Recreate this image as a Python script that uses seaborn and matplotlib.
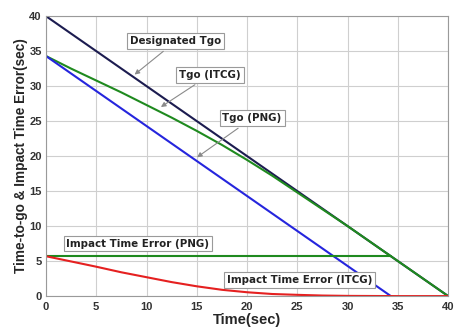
import matplotlib
matplotlib.use("Agg")
import matplotlib.pyplot as plt
import seaborn as sns
import pandas as pd

# ---- data ----
t_desig = [0, 40]
tgo_desig = [40, 0]

t_png = [0, 34.3]
tgo_png = [34.3, 0]

t_itcg = [0, 2.5, 5, 7.5, 10, 12.5, 15, 17.5, 20, 22.5, 25, 27.5, 30, 35, 40]
tgo_itcg = [34.3, 32.5, 30.8, 29.1, 27.3, 25.5, 23.6, 21.6, 19.45, 17.2, 14.8, 12.4, 10.0, 5.0, 0]

t_err_png = [0, 34.3]
err_png = [5.7, 5.7]

t_err_itcg = [0, 2.5, 5, 7.5, 10, 12.5, 15, 17.5, 20, 22.5, 25, 27.5, 30, 35, 40]
err_itcg = [5.7, 4.95, 4.2, 3.4, 2.7, 2.0, 1.4, 0.9, 0.55, 0.3, 0.18, 0.08, 0.03, 0.0, 0.0]

x_ticks = [0, 5, 10, 15, 20, 25, 30, 35, 40]
y_ticks = [0, 5, 10, 15, 20, 25, 30, 35, 40]

sns.set_style("whitegrid")
plt.rcParams['font.family'] = ['Liberation Sans', 'DejaVu Sans']

fig = plt.figure(figsize=(4.55, 3.29), dpi=100)
ax = fig.add_axes([0.101, 0.100, 0.884, 0.851])

series = [
    (t_desig, tgo_desig, "#1c1c50"),
    (t_itcg, tgo_itcg, "#1f8a1f"),
    (t_png, tgo_png, "#2525dd"),
    (t_err_png, err_png, "#1f8a1f"),
    (t_err_itcg, err_itcg, "#e52020"),
]
for xs, ys, c in series:
    df = pd.DataFrame({"t": xs, "v": ys})
    sns.lineplot(data=df, x="t", y="v", ax=ax, color=c, lw=1.5, estimator=None, sort=False)

ax.set_xlim(0, 40)
ax.set_ylim(0, 40)
ax.set_xticks(x_ticks)
ax.set_yticks(y_ticks)
ax.grid(True, color="#cfcfcf", lw=0.8)
for s in ax.spines.values():
    s.set_color("#9a9a9a")
    s.set_linewidth(0.8)
ax.tick_params(axis="x", labelsize=8, pad=4, length=0)
ax.tick_params(axis="y", labelsize=8, pad=3, length=0)
for lab in ax.get_xticklabels() + ax.get_yticklabels():
    lab.set_fontweight("bold")
    lab.set_color("#333333")

ax.set_xlabel("Time(sec)", fontsize=10.5, fontweight="bold", labelpad=1)
ax.set_ylabel("Time-to-go & Impact Time Error(sec)", fontsize=9.8, fontweight="bold", labelpad=1)

box = dict(boxstyle="square,pad=0.28", fc="white", ec="#9a9a9a", lw=0.8)
arr = dict(arrowstyle="-|>", color="#8a8a8a", lw=0.8, mutation_scale=7)
kw = dict(fontsize=7.4, fontweight="bold", color="#222222", bbox=box, ha="center", va="center",
          family=["DejaVu Sans"])

ax.annotate("Designated Tgo", xy=(8.6, 31.4), xytext=(12.9, 36.4), arrowprops=arr, **kw)
ax.annotate("Tgo (ITCG)", xy=(11.2, 26.8), xytext=(16.3, 31.6), arrowprops=arr, **kw)
ax.annotate("Tgo (PNG)", xy=(14.8, 19.6), xytext=(20.5, 25.4), arrowprops=arr, **kw)
ax.annotate("Impact Time Error (PNG)", xy=(9.15, 7.5), xytext=(9.15, 7.5), **kw)
ax.annotate("Impact Time Error (ITCG)", xy=(25.2, 2.3), xytext=(25.2, 2.3), **kw)

fig.savefig("out.png", dpi=100)
